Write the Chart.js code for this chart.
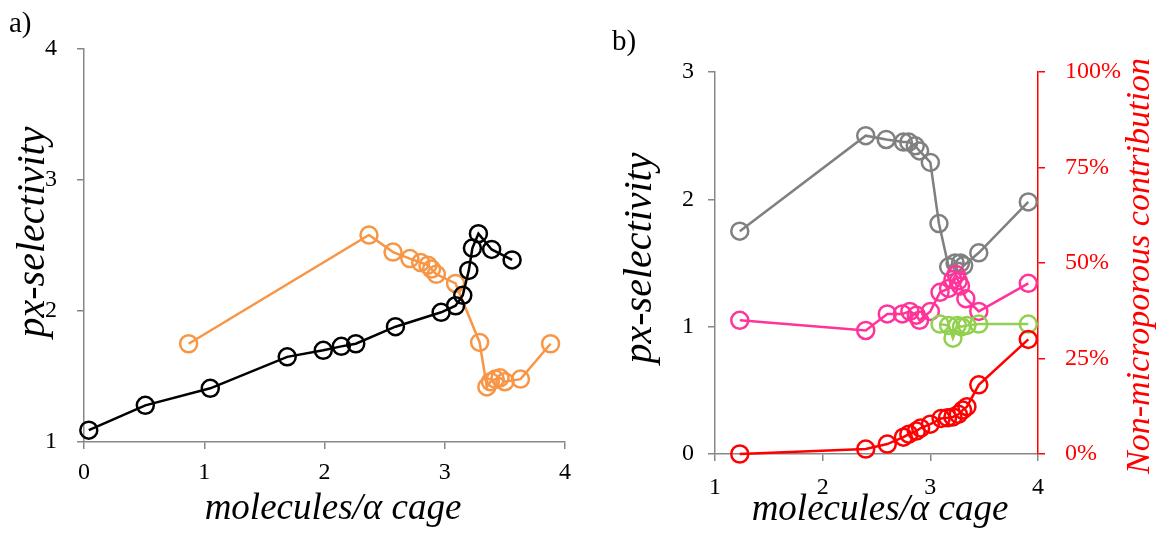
<!DOCTYPE html>
<html><head><meta charset="utf-8">
<script src="https://cdn.jsdelivr.net/npm/chart.js@4.4.1/dist/chart.umd.min.js"></script>
<style>
html,body{margin:0;padding:0;background:#fff;width:1157px;height:537px;overflow:hidden;}
#wrap{position:relative;width:1157px;height:537px;}
canvas{position:absolute;top:0;}
#ca{left:0;} #cb{left:590px;}
.lab{position:absolute;font-family:"Liberation Serif",serif;font-size:29px;color:#000;line-height:1;}
</style></head><body>
<div id="wrap">
<canvas id="ca" width="590" height="537"></canvas>
<canvas id="cb" width="567" height="537"></canvas>
<div class="lab" style="left:9px;top:8px">a)</div>
<div class="lab" style="left:612px;top:26px">b)</div>
</div>
<script>
// ---------- Panel a data ----------
const aBlackX  = [0.04, 0.51, 1.05, 1.69, 1.99, 2.14, 2.26, 2.59, 2.97, 3.09, 3.15, 3.20, 3.23, 3.28, 3.39, 3.56];
const aBlackY  = [1.09, 1.28, 1.41, 1.65, 1.70, 1.73, 1.75, 1.88, 1.99, 2.04, 2.12, 2.31, 2.48, 2.59, 2.47, 2.39];
const aOrangeX = [0.87, 2.37, 2.57, 2.71, 2.80, 2.86, 2.89, 2.93, 3.09, 3.29, 3.35, 3.38, 3.42, 3.46, 3.50, 3.63, 3.88];
const aOrangeY = [1.75, 2.58, 2.45, 2.40, 2.37, 2.35, 2.32, 2.28, 2.21, 1.76, 1.42, 1.46, 1.48, 1.49, 1.46, 1.48, 1.75];
const aXTicks = [0, 1, 2, 3, 4];
const aXTickLabels = ['0', '1', '2', '3', '4'];
const aYTicks = [1, 2, 3, 4];
const aYTickLabels = ['1', '2', '3', '4'];

// ---------- Panel b data ----------
const bGrayX  = [1.23, 2.40, 2.59, 2.75, 2.80, 2.86, 2.90, 3.00, 3.08, 3.17, 3.23, 3.28, 3.31, 3.45, 3.91];
const bGrayY  = [1.75, 2.50, 2.47, 2.45, 2.45, 2.42, 2.38, 2.29, 1.81, 1.47, 1.50, 1.50, 1.48, 1.58, 1.98];
const bPinkX  = [1.23, 2.40, 2.60, 2.74, 2.81, 2.87, 2.90, 3.00, 3.09, 3.17, 3.21, 3.24, 3.26, 3.28, 3.33, 3.45, 3.91];
const bPinkY  = [1.05, 0.97, 1.10, 1.10, 1.12, 1.09, 1.05, 1.12, 1.27, 1.30, 1.37, 1.41, 1.36, 1.32, 1.22, 1.12, 1.34];
const bGreenX = [3.09, 3.17, 3.21, 3.25, 3.29, 3.34, 3.45, 3.91];
const bGreenY = [1.02, 1.01, 0.91, 1.01, 1.00, 1.01, 1.02, 1.02];
const bRedX   = [1.23, 2.40, 2.60, 2.75, 2.80, 2.87, 2.91, 3.00, 3.10, 3.16, 3.21, 3.26, 3.30, 3.34, 3.45, 3.91];
const bRedY   = [0, 1.3, 2.6, 4.4, 5.2, 6.0, 6.8, 7.8, 9.3, 9.5, 9.7, 10.4, 11.5, 12.4, 18.1, 30.0]; // percent
const bXTicks = [1, 2, 3, 4];
const bXTickLabels = ['1', '2', '3', '4'];
const bYTicks = [0, 1, 2, 3];
const bYTickLabels = ['0', '1', '2', '3'];
const bY2Ticks = [0, 25, 50, 75, 100];
const bY2TickLabels = ['0%', '25%', '50%', '75%', '100%'];

// ---------- helpers ----------
const pts = (xs, ys) => xs.map((x, i) => ({x: x, y: ys[i]}));
const SERIF = '"Liberation Serif", "Times New Roman", serif';
const AXIS_GRAY = '#878787';

function fixSize(size) {
  return function (scale) {
    if (scale.isHorizontal()) scale.height = size; else scale.width = size;
    scale.paddingTop = 0; scale.paddingBottom = 0; scale.paddingLeft = 0; scale.paddingRight = 0;
  };
}
function setTicks(values) {
  return function (scale) { scale.ticks = values.map(v => ({value: v})); };
}
function labelFrom(values, labels) {
  return function (v) { const i = values.indexOf(v); return i >= 0 ? labels[i] : ''; };
}
function axis(opts) {
  return {
    type: 'linear',
    position: opts.position,
    min: opts.min, max: opts.max,
    afterBuildTicks: setTicks(opts.ticks),
    afterFit: fixSize(opts.size),
    grid: {display: true, drawOnChartArea: false, drawTicks: true, tickLength: 7,
           color: opts.color || AXIS_GRAY, lineWidth: 1.5},
    border: {display: true, color: opts.color || AXIS_GRAY, width: 1.5},
    ticks: {
      autoSkip: false, maxRotation: 0, minRotation: 0,
      padding: opts.pad,
      color: opts.labelColor || '#000',
      font: {family: SERIF, size: 24},
      callback: labelFrom(opts.ticks, opts.labels)
    }
  };
}
function series(data, color, order, yAxisID) {
  return {
    data: data, showLine: true, order: order,
    borderColor: color, borderWidth: 2.5,
    pointRadius: 8.5, pointHoverRadius: 8.5,
    pointBorderColor: color, pointBackgroundColor: 'rgba(0,0,0,0)', pointBorderWidth: 2.5,
    tension: 0,
    yAxisID: yAxisID || 'y', xAxisID: 'x', clip: false
  };
}
const titlePlugin = {
  id: 'axisTitles',
  afterDraw(chart, args, opts) {
    const ctx = chart.ctx;
    (opts.items || []).forEach(t => {
      ctx.save();
      ctx.translate(t.x, t.y);
      ctx.rotate(t.rot || 0);
      ctx.font = t.font;
      ctx.fillStyle = t.color;
      ctx.textAlign = 'center';
      ctx.textBaseline = 'middle';
      ctx.fillText(t.text, 0, 0);
      ctx.restore();
    });
  }
};

// ---------- Panel a ----------
new Chart(document.getElementById('ca'), {
  type: 'scatter',
  data: {datasets: [
    series(pts(aBlackX, aBlackY), '#000000', 0),
    series(pts(aOrangeX, aOrangeY), '#F79646', 1)
  ]},
  options: {
    responsive: false, animation: false,
    layout: {padding: {left: 0, top: 49, right: 25, bottom: 0}},
    plugins: {
      legend: {display: false}, tooltip: {enabled: false},
      axisTitles: {items: [
        {text: 'molecules/\u03b1 cage', x: 333, y: 509, font: 'italic 37px ' + SERIF, color: '#000'},
        {text: 'px-selectivity', x: 33, y: 232, rot: -Math.PI / 2, font: 'italic 40px ' + SERIF, color: '#000'}
      ]}
    },
    scales: {
      x: axis({position: 'bottom', min: 0, max: 4, ticks: aXTicks, labels: aXTickLabels, size: 95, pad: 9}),
      y: axis({position: 'left', min: 1, max: 4, ticks: aYTicks, labels: aYTickLabels, size: 84, pad: 20})
    }
  },
  plugins: [titlePlugin]
});

// ---------- Panel b ----------
new Chart(document.getElementById('cb'), {
  type: 'scatter',
  data: {datasets: [
    series(pts(bGrayX, bGrayY), '#808080', 3),
    series(pts(bPinkX, bPinkY), '#FF3399', 2),
    series(pts(bGreenX, bGreenY), '#92D050', 1),
    series(pts(bRedX, bRedY), '#FF0000', 0, 'y2')
  ]},
  options: {
    responsive: false, animation: false,
    layout: {padding: {left: 0, top: 72, right: 0, bottom: 0}},
    plugins: {
      legend: {display: false}, tooltip: {enabled: false},
      axisTitles: {items: [
        {text: 'molecules/\u03b1 cage', x: 290, y: 510, font: 'italic 37px ' + SERIF, color: '#000'},
        {text: 'px-selectivity', x: 50, y: 258, rot: -Math.PI / 2, font: 'italic 40px ' + SERIF, color: '#000'},
        {text: 'Non-microporous contribution', x: 550, y: 266, rot: -Math.PI / 2, font: 'italic 34px ' + SERIF, color: '#FF0000'}
      ]}
    },
    scales: {
      x: axis({position: 'bottom', min: 1, max: 4, ticks: bXTicks, labels: bXTickLabels, size: 83, pad: 12}),
      y: axis({position: 'left', min: 0, max: 3, ticks: bYTicks, labels: bYTickLabels, size: 125, pad: 14}),
      y2: axis({position: 'right', min: 0, max: 100, ticks: bY2Ticks, labels: bY2TickLabels, size: 119, pad: 20,
                color: '#FF0000', labelColor: '#FF0000'})
    }
  },
  plugins: [titlePlugin]
});
</script>
</body></html>
